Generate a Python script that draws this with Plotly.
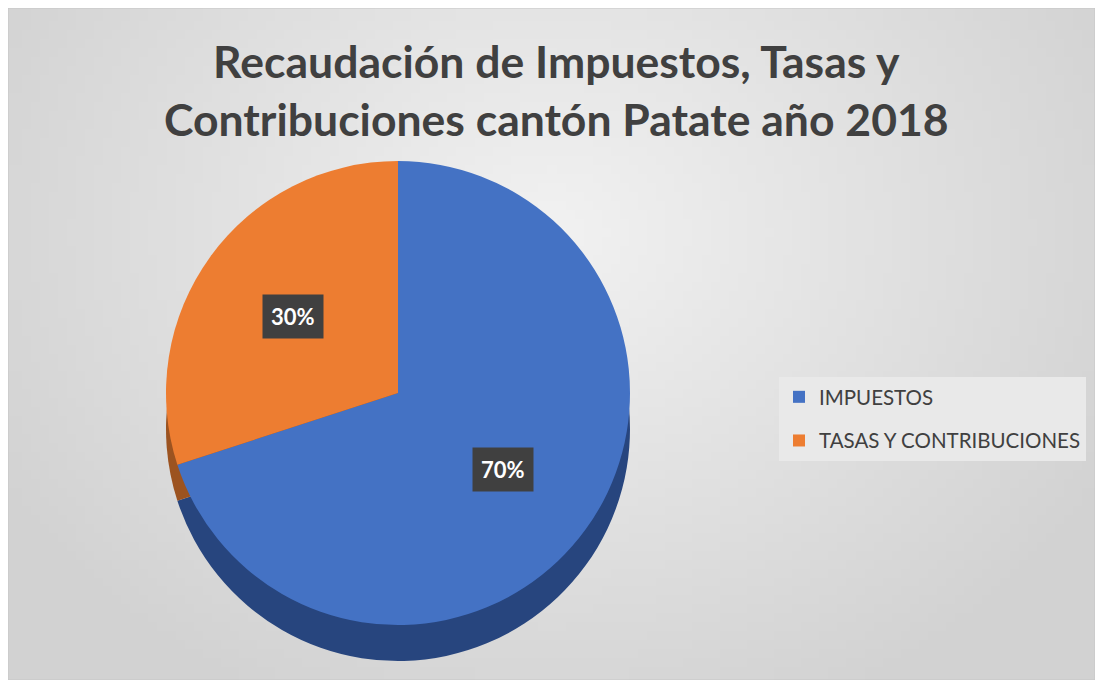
import plotly.graph_objects as go
import math, zlib, struct, base64

categories = ["IMPUESTOS", "TASAS Y CONTRIBUCIONES"]
values = [70, 30]
colors = ["#4472c4", "#ed7d31"]
side_colors = ["#27457e", "#9c5320"]
title_text = "Recaudación de Impuestos, Tasas y<br>Contribuciones cantón Patate año 2018"

# page is offset by 8px body margin -> figure occupies page px 8..1095 x 8..680
OFF = 8
W, H = 1087, 672
cx_px, cy_px, R_px = 398 - OFF, 393 - OFF, 232
depth_px = 36
FONT = "Lato, Open Sans, sans-serif"


def dom(cx, cy, r, dy=0):
    return dict(
        x=[(cx - r) / W, (cx + r) / W],
        y=[1 - (cy + dy + r) / H, 1 - (cy + dy - r) / H],
    )


def gradient_png(w=120, h=75):
    rows = b""
    for j in range(h):
        row = b"\x00"
        for i in range(w):
            dx = (i / (w - 1) - 0.5) / 0.5
            dy = (j / (h - 1) - 0.33) / 0.67
            d = min(1.0, math.sqrt(dx * dx + dy * dy) / 1.2)
            v = int(242 - (242 - 210) * d)
            row += bytes([v, v, v])
        rows += row
    def chunk(t, data):
        c = struct.pack(">I", len(data)) + t + data
        return c + struct.pack(">I", zlib.crc32(t + data) & 0xffffffff)
    png = b"\x89PNG\r\n\x1a\n" + chunk(b"IHDR", struct.pack(">IIBBBBB", w, h, 8, 2, 0, 0, 0))
    png += chunk(b"IDAT", zlib.compress(rows)) + chunk(b"IEND", b"")
    return "data:image/png;base64," + base64.b64encode(png).decode()


fig = go.Figure()
# side (depth) of the pie
fig.add_trace(go.Pie(
    labels=categories, values=values, sort=False, direction="clockwise", rotation=0,
    marker=dict(colors=side_colors, line=dict(width=0)),
    textinfo="none", hoverinfo="skip", showlegend=False,
    domain=dom(cx_px, cy_px, R_px, depth_px),
))
fig.add_trace(go.Pie(
    labels=categories, values=values, sort=False, direction="clockwise", rotation=0,
    marker=dict(colors=colors, line=dict(width=0)),
    textinfo="none", hoverinfo="label+percent", showlegend=False,
    domain=dom(cx_px, cy_px, R_px),
))

# legend entries (square swatches) spaced like the reference
for i, (c, col) in enumerate(zip(categories, colors)):
    fig.add_trace(go.Scatter(
        x=[None], y=[None], mode="markers", name=c, legendgroup=f"g{i}",
        marker=dict(symbol="square", size=12, color=col),
    ))

# data labels at slice mid-angles
total = sum(values)
start = 0.0
for v in values:
    frac = v / total
    mid = start + frac * 180.0
    start += frac * 360.0
    ang = math.radians(90 - mid)
    f = 0.56
    lx = cx_px + f * R_px * math.cos(ang)
    ly = cy_px - f * R_px * math.sin(ang)
    fig.add_annotation(
        x=lx / W, y=1 - ly / H, xref="paper", yref="paper",
        text=f"<b>{round(frac * 100)}%</b>", showarrow=False,
        font=dict(family=FONT, size=22, color="white"),
        bgcolor="#404040", borderpad=8, xanchor="center", yanchor="middle",
    )

fig.add_annotation(
    x=0.5 + (556 - OFF - W / 2) / W, y=1 - (89 - OFF) / H, xref="paper", yref="paper",
    text=f"<b>{title_text}</b>", showarrow=False, xanchor="center", yanchor="middle",
    font=dict(family=FONT, size=44.5, color="#404040"),
)

fig.add_layout_image(dict(
    source=gradient_png(), xref="paper", yref="paper", x=0, y=1, sizex=1, sizey=1,
    xanchor="left", yanchor="top", sizing="stretch", layer="below",
))
fig.add_shape(type="rect", xref="paper", yref="paper", x0=0, x1=1, y0=0, y1=1,
              line=dict(color="#c6c6c6", width=1), layer="above")

fig.update_layout(
    width=W, height=H,
    margin=dict(l=0, r=0, t=0, b=0),
    paper_bgcolor="#e3e3e3", plot_bgcolor="rgba(0,0,0,0)",
    xaxis=dict(visible=False), yaxis=dict(visible=False),
    showlegend=True,
    legend=dict(x=(779 - OFF) / W, y=1 - (377 - OFF) / H, xanchor="left", yanchor="top",
                bgcolor="#e9e9e9", font=dict(family=FONT, size=20.5, color="#404040"),
                itemsizing="constant", tracegroupgap=14, traceorder="grouped"),
)

fig.write_html("out.html")
